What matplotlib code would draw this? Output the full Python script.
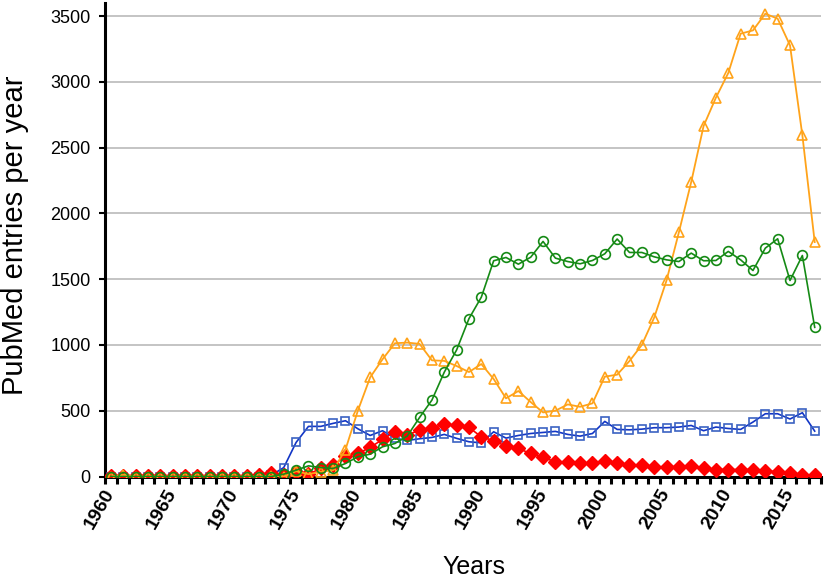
import numpy as np
import matplotlib
matplotlib.use("Agg")
import matplotlib.pyplot as plt

plt.rcParams["font.family"] = ["Liberation Sans", "DejaVu Sans"]

years = list(range(1960, 2018))

# square markers, blue
blue = [0] * 13 + [
    10, 68, 259, 381, 381, 404, 424,
    363, 312, 348, 292, 274, 287, 297, 320, 290, 264,
    256, 340, 292, 312, 327, 335, 343, 320, 307, 327,
    419, 358, 355, 360, 371, 371, 376, 388, 348, 376,
    365, 358, 414, 477, 477, 437, 485, 345,
]

# triangle markers, orange
orange = [0, 12, 0, 0, 0, 0, 0, 0, 0, 0, 0, 0, 0, 5, 0] + [
    40, 18, 36, 48, 205,
    500, 754, 891, 1013, 1018, 1008, 883, 879, 840, 794,
    855, 741, 594, 650, 566, 487, 500, 548, 530, 556,
    759, 774, 878, 1000, 1208, 1490, 1856, 2239, 2664, 2880,
    3067, 3366, 3391, 3518, 3480, 3277, 2594, 1782,
]

# circle markers, green
green = [0] * 14 + [
    18, 48, 81, 68, 61, 99,
    150, 170, 226, 251, 307, 449, 581, 793, 962, 1200,
    1363, 1640, 1665, 1614, 1667, 1787, 1660, 1634, 1617, 1642,
    1693, 1805, 1703, 1703, 1670, 1647, 1634, 1698, 1640, 1642,
    1711, 1647, 1566, 1736, 1807, 1490, 1680, 1134,
]

# filled diamonds, red
red = [5] * 12 + [
    12, 28, 10, 35, 18, 61, 86, 155,
    175, 221, 282, 340, 315, 353, 370, 398, 390, 373,
    302, 272, 231, 213, 175, 145, 112, 112, 99, 99,
    119, 99, 86, 86, 74, 74, 74, 79, 61, 53,
    53, 53, 53, 43, 36, 28, 10, 10,
]

yticks = [0, 500, 1000, 1500, 2000, 2500, 3000, 3500]
xticks = list(range(1960, 2016, 5))

fig = plt.figure(figsize=(8.27, 5.79), dpi=100)
ax = fig.add_axes((0.1266, 0.177, 0.866, 0.818))

ax.plot(years, blue, color="#1236C6", lw=1.2, marker="s", ms=6,
        mfc="none", mec="#3B62C2", mew=1.2, zorder=3)
ax.plot(years, red, color="#FF0000", lw=1.2, marker="D", ms=7,
        mfc="#FF0000", mec="#FF0000", zorder=4)
ax.plot(years, orange, color="#FFA31A", lw=1.3, marker="^", ms=7,
        mfc="none", mec="#FFA31A", mew=1.2, zorder=5)
ax.plot(years, green, color="#158A15", lw=1.2, marker="o", ms=7,
        mfc="none", mec="#158A15", mew=1.2, zorder=6)

ax.set_xlim(1959.5, 2017.5)
ax.set_ylim(0, 3600)

ax.set_yticks(yticks)
ax.set_xticks(xticks)
ax.set_xticklabels([str(y) for y in xticks], rotation=60, ha="right",
                   va="center", rotation_mode="anchor",
                   fontweight="bold", fontsize=14)
ax.set_xticks(np.arange(1959.5, 2018, 1.0), minor=True)
ax.tick_params(axis="x", which="major", length=0, pad=10)
ax.tick_params(axis="x", which="minor", length=5, width=2.2, direction="out")
ax.tick_params(axis="y", length=4, width=1.5, labelsize=13, pad=6)

ax.grid(axis="y", color="#BFBFBF", lw=1.3)
ax.set_axisbelow(True)

for side in ["top", "right"]:
    ax.spines[side].set_visible(False)
for side in ["left", "bottom"]:
    ax.spines[side].set_linewidth(2.2)

ax.set_ylabel("PubMed entries per year", fontsize=21)
ax.yaxis.set_label_coords(-0.106, 0.51)
ax.set_xlabel("Years", fontsize=18)
ax.xaxis.set_label_coords(0.516, -0.166)

fig.savefig("out.png", dpi=100)
